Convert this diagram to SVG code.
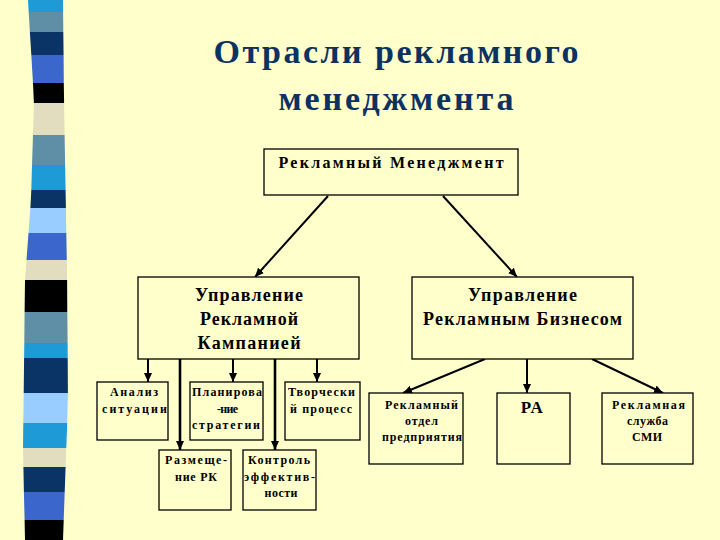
<svg xmlns="http://www.w3.org/2000/svg" width="720" height="540" viewBox="0 0 720 540">
<style>
.bg{fill:#FFFFCC}
.box{fill:#FFFFCC;stroke:#000;stroke-width:1.3}
.t{font-weight:bold;fill:#000;text-anchor:middle}
.title{font-weight:bold;fill:#0B3260;text-anchor:middle;font-size:34px}
.s16{font-size:16px}
.s18{font-size:18px}
.s12{font-size:12px}
.c{stroke:#000;stroke-width:2;fill:none;marker-end:url(#ah)}
.cl{stroke:#000;stroke-width:2.6;fill:none;marker-end:url(#ah)}
</style>
<defs>
<marker id="ah" markerUnits="userSpaceOnUse" markerWidth="10" markerHeight="10" viewBox="0 0 10 10" refX="9" refY="5" orient="auto">
<path d="M0,1 L9,5 L0,9 Z" fill="#000"/>
</marker>
</defs>
<rect class="bg" x="0" y="0" width="720" height="540"/>
<g id="stripe">
<polygon points="28,0 63,0 63.1,12 28.7,12" fill="#1E9AD6"/>
<polygon points="28.7,12 63.1,12 63.3,32 29.9,32" fill="#5E8FA6"/>
<polygon points="29.9,32 63.3,32 63.6,55 31.3,55" fill="#0A3366"/>
<polygon points="31.3,55 63.6,55 63.8,83 33,83" fill="#3B66CC"/>
<polygon points="33,83 63.8,83 64.1,103 33.9,103" fill="#000000"/>
<polygon points="33.9,103 64.1,103 64.6,135 33,135" fill="#E2DDBE"/>
<polygon points="33,135 64.6,135 65.1,165 32,165" fill="#5E8FA6"/>
<polygon points="32,165 65.1,165 65.6,190 31.3,190" fill="#1E9AD6"/>
<polygon points="31.3,190 65.6,190 65.9,208 30.4,208" fill="#0A3366"/>
<polygon points="30.4,208 65.9,208 66.3,233 28.5,233" fill="#99CCFF"/>
<polygon points="28.5,233 66.3,233 66.8,260 26.5,260" fill="#3B66CC"/>
<polygon points="26.5,260 66.8,260 67.1,280 25,280" fill="#E2DDBE"/>
<polygon points="25,280 67.1,280 67.3,312 24.6,312" fill="#000000"/>
<polygon points="24.6,312 67.3,312 67.6,343 24.3,343" fill="#5E8FA6"/>
<polygon points="24.3,343 67.6,343 67.7,358 24.1,358" fill="#1E9AD6"/>
<polygon points="24.1,358 67.7,358 67.9,393 23.7,393" fill="#0A3366"/>
<polygon points="23.7,393 67.9,393 67.2,423 23.3,423" fill="#99CCFF"/>
<polygon points="23.3,423 67.2,423 66.3,448 23,448" fill="#1E9AD6"/>
<polygon points="23,448 66.3,448 65.6,467 23.4,467" fill="#E2DDBE"/>
<polygon points="23.4,467 65.6,467 64.7,492 23.9,492" fill="#0A3366"/>
<polygon points="23.9,492 64.7,492 63.7,520 24.6,520" fill="#3B66CC"/>
<polygon points="24.6,520 63.7,520 63,540 25,540" fill="#000000"/>
</g>
<g font-family="Liberation Serif, Times New Roman, serif">
<g id="title">
<text class="title" x="396" y="63" textLength="365">Отрасли рекламного</text>
<text class="title" x="396" y="110" textLength="235">менеджмента</text>
</g>
<g id="connectors">
<line class="c" x1="328" y1="196" x2="255" y2="277"/>
<line class="c" x1="443" y1="196" x2="517" y2="277"/>
<line class="c" x1="148" y1="359" x2="148" y2="382"/>
<line class="cl" x1="180" y1="359" x2="180" y2="450"/>
<line class="c" x1="233" y1="359" x2="233" y2="382"/>
<line class="cl" x1="275" y1="359" x2="275" y2="450"/>
<line class="c" x1="317" y1="359" x2="317" y2="382"/>
<line class="c" x1="485" y1="359" x2="403" y2="393"/>
<line class="c" x1="527" y1="359" x2="527" y2="393"/>
<line class="c" x1="592" y1="359" x2="663" y2="393"/>
</g>
<g id="n-top">
<rect class="box" x="264" y="149" width="254" height="46"/>
<text class="t s16" x="391" y="168" textLength="225">Рекламный Менеджмент</text>
</g>
<g id="n-campaign">
<rect class="box" x="138" y="277" width="221" height="82"/>
<text class="t s18" x="249" y="301" textLength="108">Управление</text>
<text class="t s18" x="249" y="325" textLength="98">Рекламной</text>
<text class="t s18" x="249" y="349" textLength="103">Кампанией</text>
</g>
<g id="n-business">
<rect class="box" x="412" y="277" width="221" height="82"/>
<text class="t s18" x="522.5" y="301" textLength="109">Управление</text>
<text class="t s18" x="522.5" y="325" textLength="199">Рекламным Бизнесом</text>
</g>
<g id="n-analysis">
<rect class="box" x="97" y="382" width="71" height="58"/>
<text class="t s12" x="134" y="396" textLength="48">Анализ</text>
<text class="t s12" x="134.5" y="413" textLength="65">ситуации</text>
</g>
<g id="n-planning">
<rect class="box" x="190" y="382" width="73" height="58"/>
<text class="t s12" x="227" y="396" textLength="70">Планирова</text>
<text class="t s12" x="227.5" y="413" textLength="21">-ние</text>
<text class="t s12" x="226" y="429" textLength="68">стратегии</text>
</g>
<g id="n-creative">
<rect class="box" x="285" y="382" width="75" height="58"/>
<text class="t s12" x="321.5" y="396" textLength="67">Творчески</text>
<text class="t s12" x="321" y="413" textLength="62">й процесс</text>
</g>
<g id="n-placement">
<rect class="box" x="159" y="450" width="72" height="60"/>
<text class="t s12" x="196" y="464" textLength="62">Размеще-</text>
<text class="t s12" x="196" y="481" textLength="42">ние РК</text>
</g>
<g id="n-control">
<rect class="box" x="243" y="450" width="73" height="60"/>
<text class="t s12" x="279" y="464" textLength="62">Контроль</text>
<text class="t s12" x="279.5" y="481" textLength="71">эффектив-</text>
<text class="t s12" x="281" y="497" textLength="33">ности</text>
</g>
<g id="n-dept">
<rect class="box" x="369" y="393" width="94" height="71"/>
<text class="t s12" x="421.5" y="409" textLength="73">Рекламный</text>
<text class="t s12" x="421.5" y="425" textLength="33">отдел</text>
<text class="t s12" x="422" y="441" textLength="80">предприятия</text>
</g>
<g id="n-ra">
<rect class="box" x="497" y="393" width="73" height="71"/>
<text class="t" x="532.5" y="413" style="font-size:17px;letter-spacing:1.5px">РА</text>
</g>
<g id="n-media">
<rect class="box" x="602" y="393" width="91" height="71"/>
<text class="t s12" x="648.5" y="409" textLength="73">Рекламная</text>
<text class="t s12" x="647.5" y="425" textLength="41">служба</text>
<text class="t s12" x="647" y="441" textLength="30">СМИ</text>
</g>
</g>
</svg>
